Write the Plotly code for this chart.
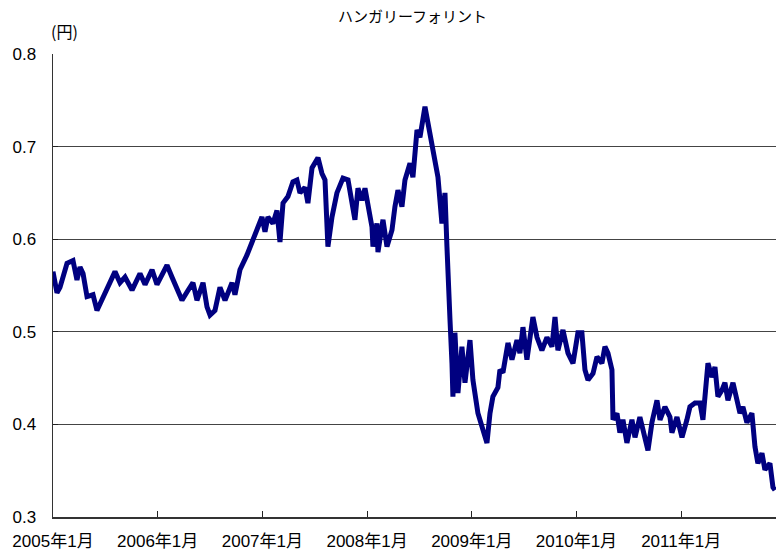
import plotly.graph_objects as go

# time as decimal years, value in yen per forint
t_year = [
    2005.000, 2005.038, 2005.067, 2005.134, 2005.191, 2005.229, 2005.258, 2005.287, 2005.325, 2005.382,
    2005.420, 2005.478, 2005.544, 2005.592, 2005.640, 2005.688, 2005.755, 2005.831, 2005.879, 2005.946,
    2005.993, 2006.089, 2006.137, 2006.184, 2006.232, 2006.280, 2006.337, 2006.375, 2006.433, 2006.471,
    2006.500, 2006.547, 2006.595, 2006.643, 2006.710, 2006.738, 2006.786, 2006.853, 2006.910, 2006.948,
    2006.996, 2007.025, 2007.053, 2007.101, 2007.139, 2007.168, 2007.197, 2007.244, 2007.292, 2007.330,
    2007.359, 2007.407, 2007.435, 2007.474, 2007.531, 2007.569, 2007.598, 2007.626, 2007.665, 2007.712,
    2007.770, 2007.818, 2007.856, 2007.884, 2007.913, 2007.951, 2007.980, 2008.009, 2008.047, 2008.056,
    2008.094, 2008.104, 2008.152, 2008.190, 2008.238, 2008.266, 2008.295, 2008.333, 2008.362, 2008.410,
    2008.438, 2008.477, 2008.505, 2008.553, 2008.582, 2008.620, 2008.648, 2008.677, 2008.715, 2008.744,
    2008.763, 2008.773, 2008.792, 2008.811, 2008.820, 2008.839, 2008.868, 2008.906, 2008.935, 2008.983,
    2009.011, 2009.059, 2009.107, 2009.145, 2009.174, 2009.202, 2009.250, 2009.269, 2009.298, 2009.346,
    2009.384, 2009.432, 2009.460, 2009.489, 2009.527, 2009.556, 2009.584, 2009.623, 2009.670, 2009.718,
    2009.766, 2009.795, 2009.823, 2009.871, 2009.919, 2009.967, 2010.014, 2010.052, 2010.081, 2010.110,
    2010.158, 2010.196, 2010.243, 2010.272, 2010.301, 2010.339, 2010.349, 2010.387, 2010.415, 2010.444,
    2010.482, 2010.530, 2010.559, 2010.606, 2010.654, 2010.683, 2010.721, 2010.769, 2010.798, 2010.845,
    2010.893, 2010.912, 2010.960, 2011.008, 2011.055, 2011.084, 2011.132, 2011.180, 2011.208, 2011.227,
    2011.256, 2011.294, 2011.323, 2011.351, 2011.390, 2011.418, 2011.447, 2011.495, 2011.533, 2011.562,
    2011.590, 2011.628, 2011.676, 2011.705, 2011.733, 2011.772, 2011.800, 2011.848, 2011.877, 2011.896,
]
huf_jpy = [
    0.565, 0.542, 0.548, 0.574, 0.577, 0.556, 0.570, 0.563, 0.538, 0.540,
    0.523, 0.538, 0.553, 0.565, 0.553, 0.559, 0.545, 0.563, 0.551, 0.567,
    0.551, 0.572, 0.559, 0.545, 0.534, 0.543, 0.553, 0.534, 0.553, 0.527,
    0.518, 0.523, 0.548, 0.534, 0.553, 0.540, 0.567, 0.583, 0.600, 0.613,
    0.624, 0.608, 0.624, 0.617, 0.631, 0.597, 0.639, 0.646, 0.662, 0.664,
    0.650, 0.656, 0.639, 0.677, 0.688, 0.671, 0.664, 0.592, 0.624, 0.650,
    0.666, 0.664, 0.642, 0.621, 0.655, 0.642, 0.655, 0.635, 0.613, 0.592,
    0.617, 0.586, 0.621, 0.592, 0.610, 0.635, 0.653, 0.635, 0.664, 0.682,
    0.667, 0.718, 0.710, 0.743, 0.725, 0.696, 0.678, 0.667, 0.617, 0.650,
    0.592, 0.548, 0.513, 0.466, 0.430, 0.499, 0.434, 0.484, 0.445, 0.491,
    0.448, 0.412, 0.394, 0.380, 0.412, 0.430, 0.440, 0.459, 0.456, 0.488,
    0.470, 0.491, 0.477, 0.505, 0.470, 0.499, 0.516, 0.494, 0.480, 0.494,
    0.484, 0.516, 0.480, 0.502, 0.477, 0.466, 0.499, 0.499, 0.459, 0.448,
    0.455, 0.473, 0.466, 0.484, 0.477, 0.459, 0.405, 0.412, 0.391, 0.405,
    0.380, 0.405, 0.386, 0.408, 0.383, 0.372, 0.402, 0.426, 0.405, 0.419,
    0.408, 0.391, 0.408, 0.386, 0.405, 0.419, 0.423, 0.423, 0.405, 0.434,
    0.466, 0.451, 0.462, 0.430, 0.437, 0.445, 0.426, 0.445, 0.423, 0.412,
    0.419, 0.402, 0.412, 0.376, 0.358, 0.369, 0.351, 0.358, 0.332, 0.329,
]
tick_years = [2005, 2006, 2007, 2008, 2009, 2010, 2011]
tick_labels = ["2005年1月", "2006年1月", "2007年1月", "2008年1月", "2009年1月", "2010年1月", "2011年1月"]
y_ticks = [0.3, 0.4, 0.5, 0.6, 0.7, 0.8]
y_labels = ["0.3", "0.4", "0.5", "0.6", "0.7", "0.8"]
title_text = "ハンガリーフォリント"
unit_text = "(円)"

FONT = "Liberation Sans, Arial, Noto Sans CJK JP, sans-serif"

W, H = 776, 558
ml, mr, mt, mb = 53, 0, 54, 41
pw, ph = W - ml - mr, H - mt - mb

fig = go.Figure()
fig.add_trace(go.Scatter(
    x=t_year, y=huf_jpy, mode="lines",
    line=dict(color="#000080", width=5),
    hoverinfo="skip", cliponaxis=False,
))

fig.update_layout(
    width=W, height=H,
    margin=dict(l=ml, r=mr, t=mt, b=mb, autoexpand=False),
    paper_bgcolor="white", plot_bgcolor="white",
    showlegend=False,
    hovermode=False,
    font=dict(family=FONT, size=17, color="black"),
    xaxis=dict(
        range=[2005, 2011.906], automargin=False,
        tickmode="array", tickvals=tick_years, ticktext=tick_labels,
        ticks="inside", ticklen=6, tickcolor="#222", tickwidth=1,
        showgrid=False, zeroline=False,
        showline=True, linecolor="#333", linewidth=1.5,
        tickfont=dict(family=FONT, size=17),
        ticklabelstandoff=8,
    ),
    yaxis=dict(
        range=[0.3, 0.8], automargin=False,
        tickmode="array", tickvals=y_ticks, ticktext=y_labels,
        ticks="inside", ticklen=5, tickcolor="#222", tickwidth=1,
        showgrid=True, gridcolor="#444", gridwidth=1,
        zeroline=False,
        showline=True, linecolor="#333", linewidth=1.5,
        tickfont=dict(family=FONT, size=17),
        ticklabelstandoff=12,
    ),
    annotations=[
        dict(text=title_text, x=(412 - ml) / pw, y=(H - mb - 15) / ph,
             xref="paper", yref="paper", xanchor="center", yanchor="middle",
             showarrow=False, font=dict(family="Noto Sans CJK JP, sans-serif", size=15)),
        dict(text=unit_text, x=(64 - ml) / pw, y=(H - mb - 31) / ph,
             xref="paper", yref="paper", xanchor="center", yanchor="middle",
             showarrow=False, font=dict(family="Noto Sans CJK JP, sans-serif", size=16)),
    ],
)

fig.write_html(
    "out.html",
    config={"displayModeBar": False, "staticPlot": True},
    post_script="document.body.style.margin='0';document.body.style.overflow='hidden';",
)
